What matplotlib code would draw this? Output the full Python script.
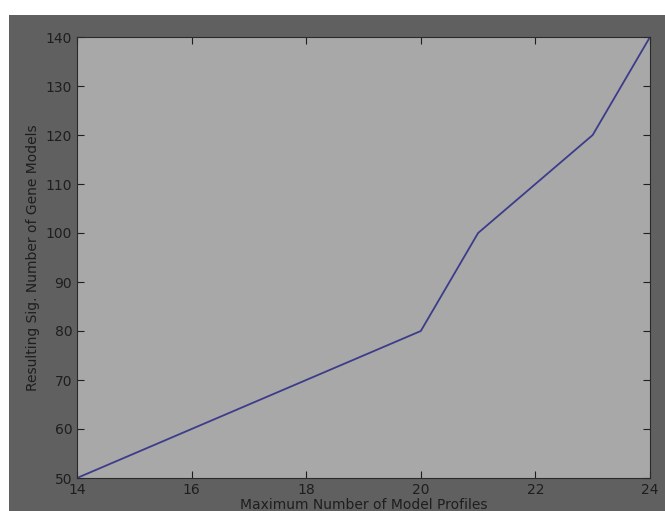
import matplotlib
matplotlib.use('Agg')
import matplotlib.pyplot as plt
from matplotlib.patches import Rectangle

# 数据
max_profiles = [14, 20, 21, 23, 24]
sig_gene_models = [50, 80, 100, 120, 140]

fig = plt.figure(figsize=(6.65, 5.11), dpi=100, facecolor='white')
# 灰色背景区域（左上留白）
fig.patches.append(Rectangle((9 / 665, 0), 1, 1 - 15 / 511, transform=fig.transFigure,
                             facecolor='#606060', edgecolor='none', zorder=-1))

ax = fig.add_axes([77 / 665, 1 - 478 / 511, (650 - 77) / 665, (478 - 37) / 511])
ax.set_facecolor('#a8a8a8')
ax.plot(max_profiles, sig_gene_models, color='#3c3c8a', linewidth=1.3)

ax.set_xlim(14, 24)
ax.set_ylim(50, 140)
ax.set_xticks(range(14, 25, 2))
ax.set_yticks(range(50, 141, 10))
ax.tick_params(direction='in', top=True, right=True, labelsize=10, colors='#1e1e1e', length=5)
for s in ax.spines.values():
    s.set_color('#2a2a2a')

ax.set_xlabel('Maximum Number of Model Profiles', fontsize=10, color='#1e1e1e', labelpad=1)
ax.set_ylabel('Resulting Sig. Number of Gene Models', fontsize=10, color='#1e1e1e', labelpad=4)

fig.savefig('out.png', dpi=100, facecolor=fig.get_facecolor())
plt.close(fig)
